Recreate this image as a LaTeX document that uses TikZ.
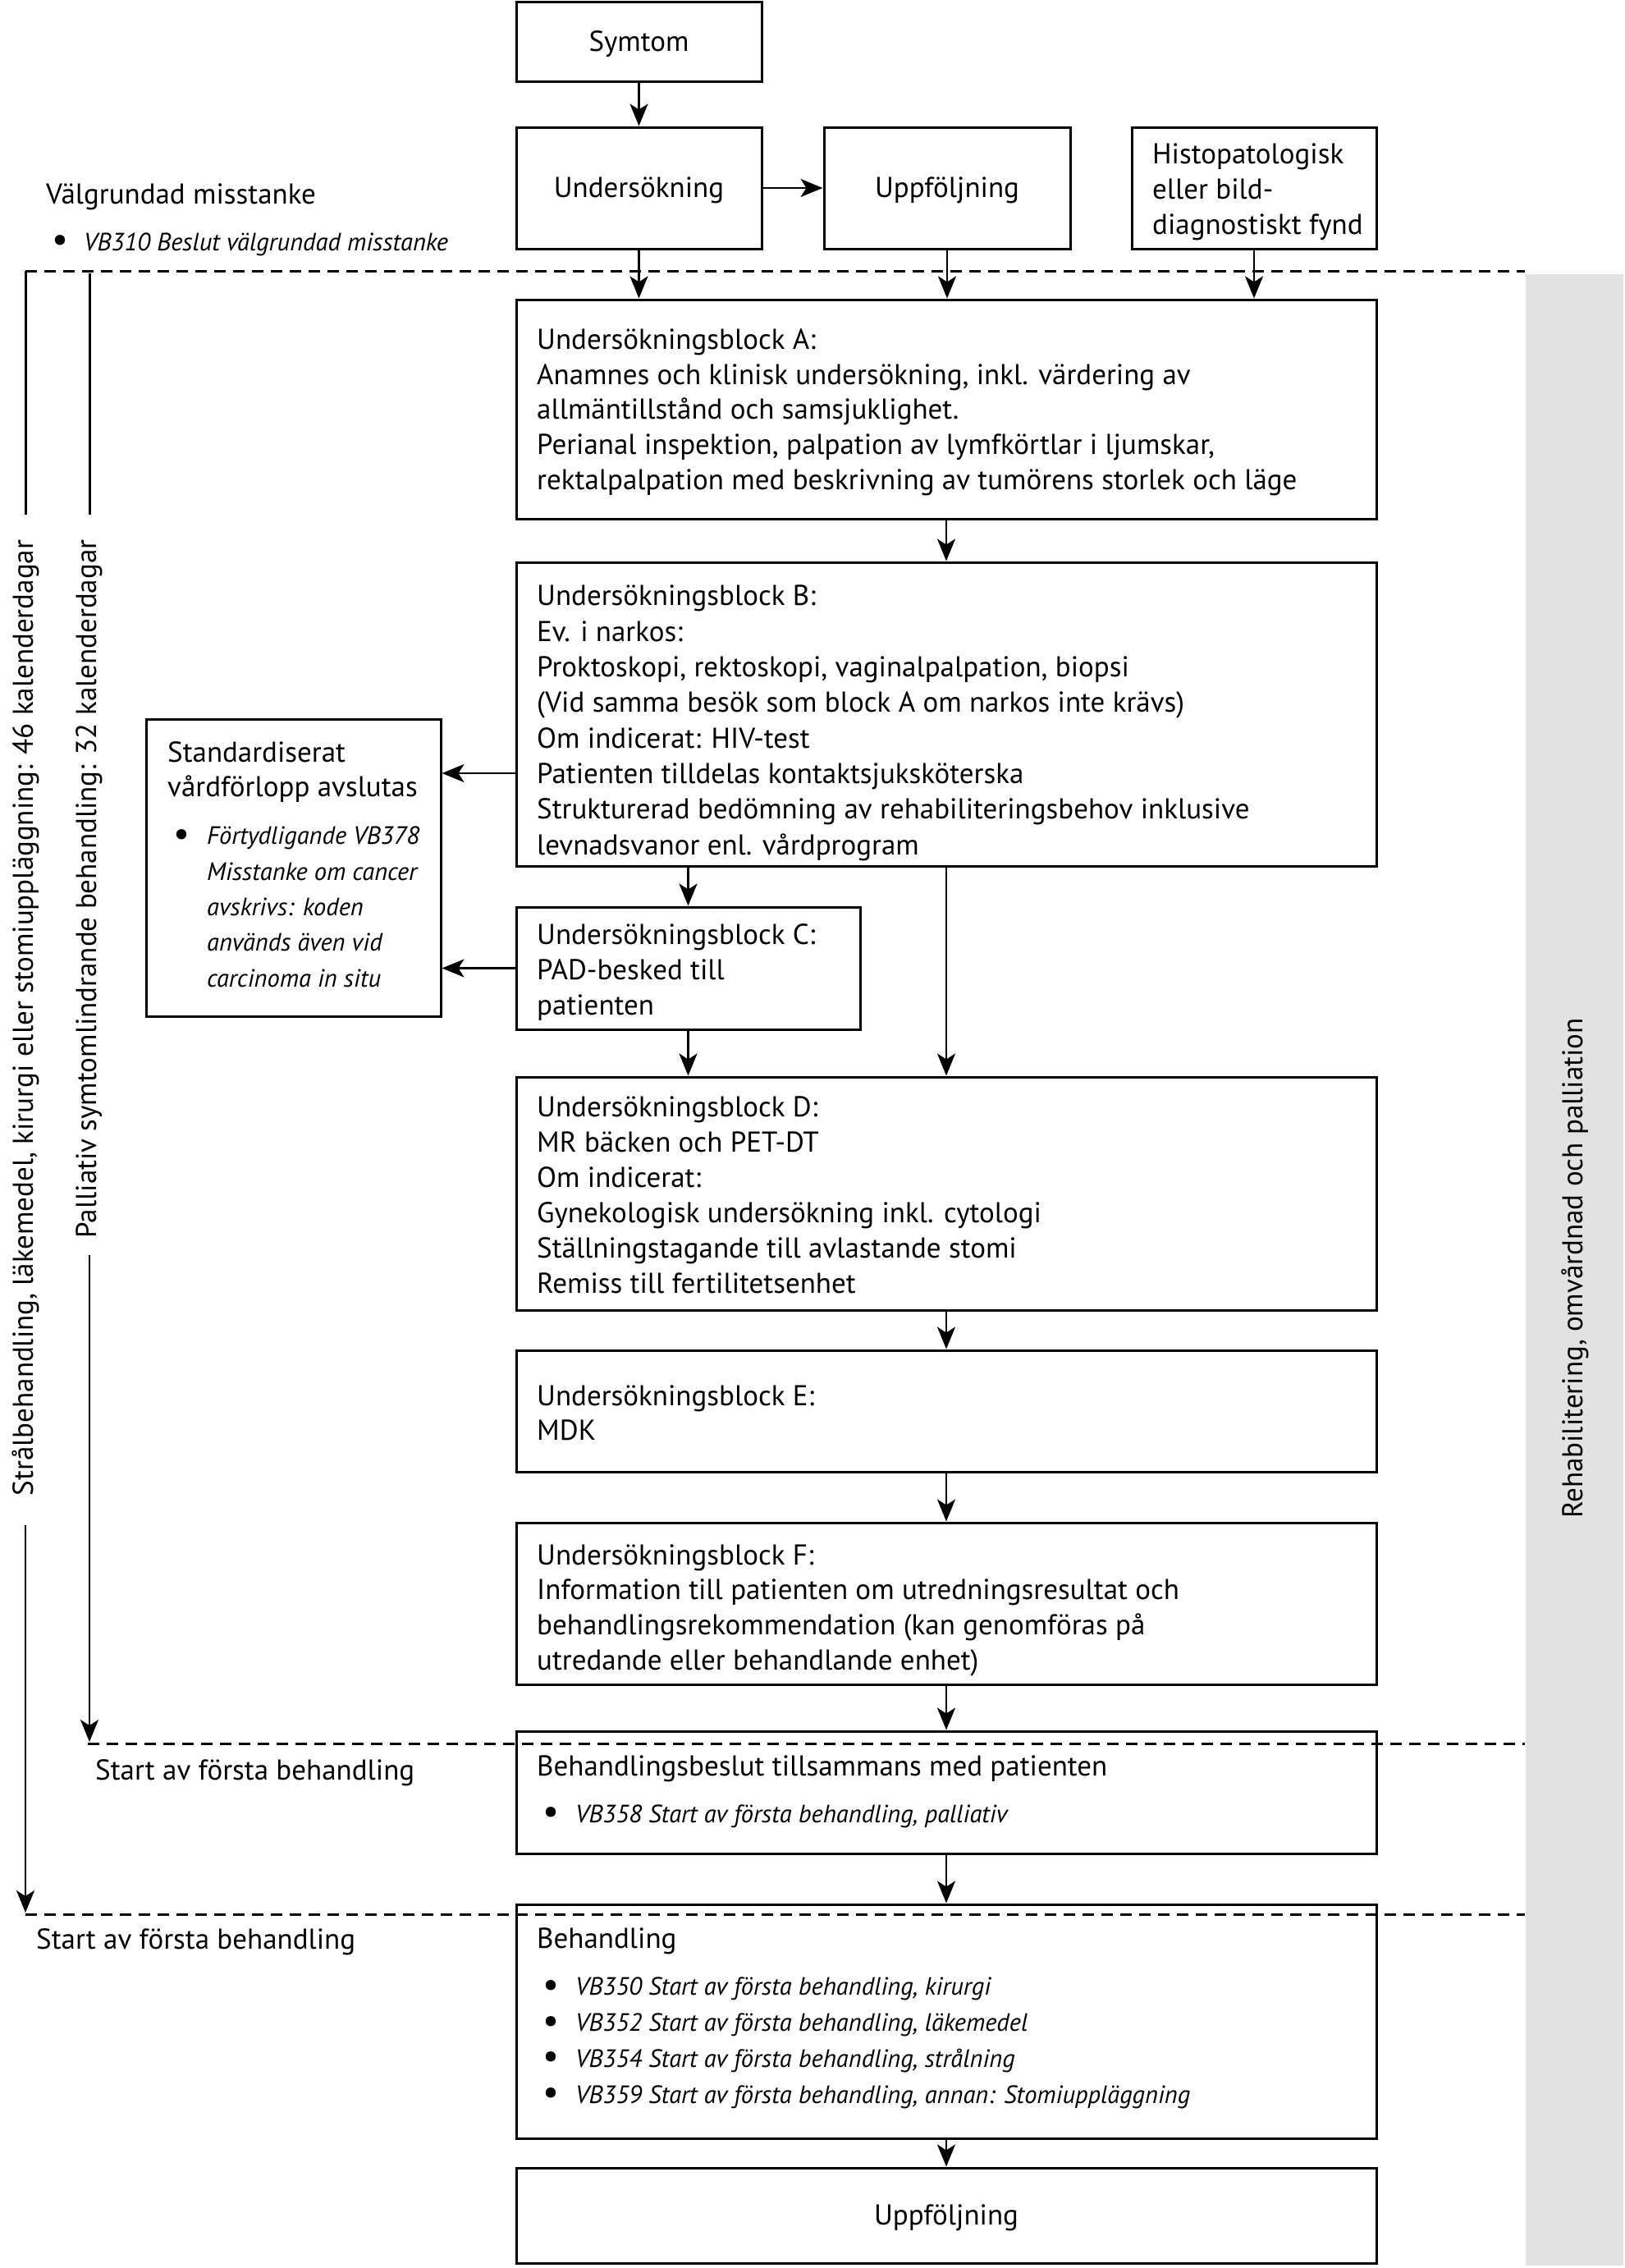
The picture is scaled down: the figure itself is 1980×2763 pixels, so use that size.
\documentclass[tikz,border=0pt]{standalone}
\usepackage{fontspec}
\usepackage{graphicx}
\setmainfont{PT Sans}
\usetikzlibrary{arrows.meta}
\definecolor{band}{HTML}{E2E2E2}
\newcommand{\bul}[1]{\makebox[#1][l]{\upshape\raisebox{-0.05em}{\scalebox{1.45}{\textbullet}}}}
\begin{document}
\begin{tikzpicture}[x=1pt,y=-1pt,
  box/.style={draw, line width=3pt, inner sep=0pt, font=\fontsize{35}{42.6}\selectfont},
  ctr/.style={yshift=-3pt},
  txt/.style={inner sep=0pt, anchor=base west, align=left, font=\fontsize{35}{42.6}\selectfont},
  itxt/.style={inner sep=0pt, anchor=base west, align=left, font=\fontsize{30.5}{43.3}\selectfont\itshape},
  rot/.style={inner sep=0pt, rotate=90, font=\fontsize{35}{40}\selectfont},
  arr/.style={line width=2.5pt, -{Stealth[length=27pt,width=22pt,inset=7pt]}},
  dashln/.style={line width=3pt, dash pattern=on 14pt off 9pt},
  vline/.style={line width=3pt},
]
\useasboundingbox (0,0) rectangle (1980,2763);
\fill[band] (1859,334) rectangle (1978,2760);
\node[rot] (gray) at (1919,1545) {Rehabilitering, omvårdnad och palliation};

% top boxes
\node[box, minimum width=299pt, minimum height=97pt] (sym) at (778.5,50.5) {};
\node[box, draw=none, ctr] (symt) at (sym.center) {Symtom};
\node[box, minimum width=299pt, minimum height=148pt] (und) at (778.5,229) {};
\node[box, draw=none, ctr] (undt) at (und.center) {Undersökning};
\node[box, minimum width=300pt, minimum height=148pt] (upp) at (1154,229) {};
\node[box, draw=none, ctr] (uppt) at (upp.center) {Uppföljning};
\node[box, minimum width=298pt, minimum height=148pt] (his) at (1528,229) {};
\node[txt, font=\fontsize{35}{43}\selectfont] (histxt) at (1404,285) {Histopatologisk\\eller bild-\\diagnostiskt fynd};

% left header
\node[txt] (valg) at (56,248) {Välgrundad misstanke};
\node[itxt] (vb310) at (63,305) {\bul{39pt}VB310 Beslut välgrundad misstanke};

% main boxes
\node[box, minimum width=1048pt, minimum height=267pt] (A) at (1153,498.5) {};
\node[txt] (Atxt) at (654,596) {Undersökningsblock A:\\Anamnes och klinisk undersökning, inkl. värdering av\\allmäntillstånd och samsjuklighet.\\Perianal inspektion, palpation av lymfkörtlar i ljumskar,\\rektalpalpation med beskrivning av tumörens storlek och läge};

\node[box, minimum width=1048pt, minimum height=370pt] (B) at (1153,870) {};
\node[txt, font=\fontsize{35}{43.3}\selectfont] (Btxt) at (654,1041) {Undersökningsblock B:\\Ev. i narkos:\\Proktoskopi, rektoskopi, vaginalpalpation, biopsi\\(Vid samma besök som block A om narkos inte krävs)\\Om indicerat: HIV-test\\Patienten tilldelas kontaktsjuksköterska\\Strukturerad bedömning av rehabiliteringsbehov inklusive\\levnadsvanor enl. vårdprogram};

\node[box, minimum width=359pt, minimum height=362pt] (S) at (357.5,1057) {};
\node[txt, font=\fontsize{35}{42}\selectfont] (Stxt) at (204,970) {Standardiserat\\vårdförlopp avslutas};
\node[itxt] (Sbul) at (211,1202) {\bul{41pt}Förtydligande VB378\\\hspace*{41pt}Misstanke om cancer\\\hspace*{41pt}avskrivs: koden\\\hspace*{41pt}används även vid\\\hspace*{41pt}carcinoma in situ};

\node[box, minimum width=419pt, minimum height=149pt] (C) at (838.5,1179.5) {};
\node[txt, font=\fontsize{35}{43}\selectfont] (Ctxt) at (654,1236) {Undersökningsblock C:\\PAD-besked till\\patienten};

\node[box, minimum width=1048pt, minimum height=284pt] (D) at (1153,1454) {};
\node[txt, font=\fontsize{35}{43}\selectfont] (Dtxt) at (654,1575) {Undersökningsblock D:\\MR bäcken och PET-DT\\Om indicerat:\\Gynekologisk undersökning inkl. cytologi\\Ställningstagande till avlastande stomi\\Remiss till fertilitetsenhet};

\node[box, minimum width=1048pt, minimum height=148pt] (E) at (1153,1719) {};
\node[txt, font=\fontsize{35}{42}\selectfont] (Etxt) at (654,1754) {Undersökningsblock E:\\MDK};

\node[box, minimum width=1048pt, minimum height=197pt] (F) at (1153,1953.5) {};
\node[txt] (Ftxt) at (654,2034) {Undersökningsblock F:\\Information till patienten om utredningsresultat och\\behandlingsrekommendation (kan genomföras på\\utredande eller behandlande enhet)};

\node[box, minimum width=1048pt, minimum height=149pt] (G) at (1153,2183.5) {};
\node[txt] (Gtxt) at (654,2163) {Behandlingsbeslut tillsammans med patienten};
\node[itxt] (Gbul) at (661,2220) {\bul{40pt}VB358 Start av första behandling, palliativ};

\node[box, minimum width=1048pt, minimum height=285pt] (H) at (1153,2462.5) {};
\node[txt] (Htxt) at (654,2373) {Behandling};
\node[itxt, font=\fontsize{30.5}{43.7}\selectfont\itshape] (Hbul) at (661,2562) {\bul{40pt}VB350 Start av första behandling, kirurgi\\\bul{40pt}VB352 Start av första behandling, läkemedel\\\bul{40pt}VB354 Start av första behandling, strålning\\\bul{40pt}VB359 Start av första behandling, annan: Stomiuppläggning};

\node[box, minimum width=1048pt, minimum height=116pt] (I) at (1153,2699) {};
\node[box, draw=none, ctr] (It) at (I.center) {Uppföljning};

% left side labels
\node[rot] (lab1) at (31,1240) {Strålbehandling, läkemedel, kirurgi eller stomiuppläggning: 46 kalenderdagar};
\node[rot] (lab2) at (109,1083) {Palliativ symtomlindrande behandling: 32 kalenderdagar};
\node[txt] (start1) at (116,2168) {Start av första behandling};
\node[txt] (start2) at (44,2374) {Start av första behandling};

% dashed lines
\coordinate (d1L) at (31,330);  \coordinate (d1R) at (1858,330);
\coordinate (d2L) at (107,2124); \coordinate (d2R) at (1858,2124);
\coordinate (d3L) at (31,2332); \coordinate (d3R) at (1858,2332);
\draw[dashln] (d1L) -- (d1R);
\draw[dashln] (d2L) -- (d2R);
\draw[dashln] (d3L) -- (d3R);

% vertical timeline lines
\coordinate (L1a) at (31,330);  \coordinate (L1b) at (31,627);
\coordinate (L1c) at (31,1858); \coordinate (L1d) at (31,2330);
\coordinate (L2a) at (109,333); \coordinate (L2b) at (109,627);
\coordinate (L2c) at (109,1529); \coordinate (L2d) at (109,2122);
\draw[vline] (L1a) -- (L1b);
\draw[vline, arr] (L1c) -- (L1d);
\draw[vline] (L2a) -- (L2b);
\draw[vline, arr] (L2c) -- (L2d);

% connectors
\draw[arr] (sym.south) -- (und.north);
\draw[arr] (und.east) -- (upp.west);
\draw[arr] (und.south) -- (und.south |- A.north);
\draw[arr] (upp.south) -- (upp.south |- A.north);
\draw[arr] (his.south) -- (his.south |- A.north);
\draw[arr] (A.south) -- (B.north);
\draw[arr] (C.north |- B.south) -- (C.north);
\draw[arr] (B.south) -- (D.north);
\draw[arr] (C.south) -- (C.south |- D.north);
\coordinate (yBS) at (0,942);
\draw[arr] (B.west |- yBS) -- (S.east |- yBS);
\draw[arr] (C.west) -- (S.east |- C.west);
\draw[arr] (D.south) -- (E.north);
\draw[arr] (E.south) -- (F.north);
\draw[arr] (F.south) -- (G.north);
\draw[arr] (G.south) -- (H.north);
\draw[arr] (H.south) -- (I.north);
\end{tikzpicture}
\end{document}
